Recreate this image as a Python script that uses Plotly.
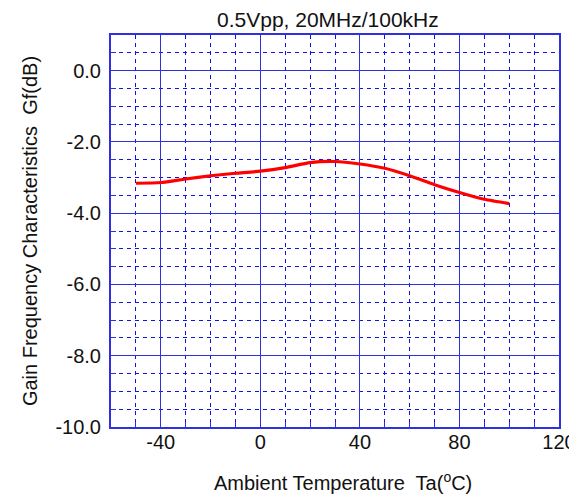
import plotly.graph_objects as go

# curve
temperature = [-50, -40, -30, -20, -10, 0, 10, 20, 30, 40, 50, 60, 70, 80, 90, 100]
gain_db = [-3.16, -3.14, -3.04, -2.95, -2.88, -2.82, -2.72, -2.58, -2.55, -2.62,
           -2.74, -2.95, -3.20, -3.42, -3.61, -3.73]

x_ticks = [-40, 0, 40, 80, 120]
y_ticks = [0, -2, -4, -6, -8, -10]

grid_blue = "#3030e0"
minor_blue = "#1010f0"
font = dict(family="Liberation Sans, Arial, sans-serif", size=20, color="#111111")

# page body adds an 8px margin, so the figure is a bit smaller than the window
fig = go.Figure()
fig.add_trace(go.Scatter(
    x=temperature, y=gain_db, mode="lines",
    line=dict(color="#ff0000", width=3.2, shape="spline", smoothing=0.6),
    showlegend=False,
))

fig.update_layout(
    width=569, height=489,
    margin=dict(l=103, r=18, t=27, b=70),
    paper_bgcolor="white", plot_bgcolor="white",
    font=font,
    annotations=[
        dict(text="0.5Vpp, 20MHz/100kHz", xref="paper", yref="paper",
             x=0.485, y=1.0, yanchor="bottom", xanchor="center", yshift=2,
             showarrow=False, font=dict(family=font["family"], size=21, color="#111111")),
        dict(text="Ambient Temperature  Ta(<sup>o</sup>C)", xref="paper", yref="paper",
             x=0.518, y=0, yanchor="middle", xanchor="center", yshift=-54,
             showarrow=False, font=font),
    ],
)

fig.update_xaxes(
    range=[-60, 120], tickvals=x_ticks, ticktext=[str(v) for v in x_ticks],
    automargin=False, tickfont=font,
    showgrid=True, gridcolor=grid_blue, gridwidth=1,
    showline=True, linecolor=grid_blue, linewidth=2, mirror=True,
    ticks="inside", ticklen=6, tickcolor=grid_blue, zeroline=False,
    minor=dict(dtick=10, showgrid=True, gridcolor=minor_blue, griddash="4px,4px",
               gridwidth=1, ticks="inside", ticklen=5, tickcolor=grid_blue),
    ticklabelstandoff=-4,
)
fig.update_yaxes(
    range=[-10, 1], tickvals=y_ticks, ticktext=[f"{v:.1f}" for v in y_ticks],
    automargin=False, tickfont=font,
    showgrid=True, gridcolor=grid_blue, gridwidth=1,
    showline=True, linecolor=grid_blue, linewidth=2, mirror=True,
    ticks="inside", ticklen=6, tickcolor=grid_blue, zeroline=False,
    minor=dict(dtick=0.5, showgrid=True, gridcolor=minor_blue, griddash="4px,4px",
               gridwidth=1, ticks="inside", ticklen=5, tickcolor=grid_blue),
    title=dict(text="Gain Frequency Characteristics  Gf(dB)", standoff=12, font=font),
    ticklabelstandoff=4,
)

fig.write_html("out.html")
